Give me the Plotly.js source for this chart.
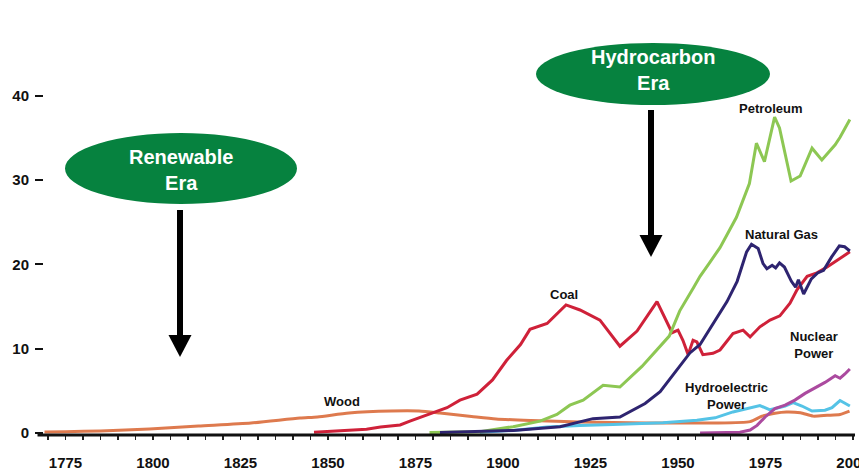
<!DOCTYPE html>
<html><head><meta charset="utf-8">
<script src="https://cdn.plot.ly/plotly-3.0.1.min.js"></script>
<style>html,body{margin:0;padding:0;background:#fff;overflow:hidden;} #chart{width:859px;height:471px;}</style>
</head><body><div id="chart"></div>
<script>
// ---- data (quadrillion Btu) ----
const xTickVals = [1775, 1800, 1825, 1850, 1875, 1900, 1925, 1950, 1975, 2000];
const xTickText = ['1775', '1800', '1825', '1850', '1875', '1900', '1925', '1950', '1975', '2000'];
const yTickVals = [0, 10, 20, 30, 40];
const yTickText = ['0', '10', '20', '30', '40'];

const woodYears = [1769, 1775, 1785, 1799, 1813, 1828, 1842, 1847, 1856, 1868, 1876, 1882, 1891, 1898, 1908, 1922, 1941, 1950, 1960, 1970.6, 1974, 1977.7, 1981, 1985, 1988.6, 1992.6, 1996.3, 1999];
const woodVals  = [0.12, 0.15, 0.24, 0.47, 0.83, 1.19, 1.78, 1.9, 2.37, 2.61, 2.61, 2.37, 1.96, 1.66, 1.48, 1.31, 1.19, 1.19, 1.19, 1.35, 2.0, 2.35, 2.5, 2.4, 2.0, 2.1, 2.2, 2.6];

const coalYears = [1846, 1861, 1865, 1870.6, 1873.4, 1879, 1884, 1887.7, 1892.6, 1897, 1901, 1905, 1907.7, 1912.6, 1918, 1922, 1927.7, 1933.4, 1938.3, 1944, 1948.3, 1950, 1951.4, 1952.9, 1954.3, 1955.4, 1957.1, 1960, 1962, 1965.7, 1968.6, 1970.6, 1973.4, 1976.3, 1979.1, 1982, 1984, 1986.9, 1989.7, 1992.6, 1995.4, 1998.3, 1999.1];
const coalVals  = [0.1, 0.44, 0.7, 0.95, 1.4, 2.2, 3.0, 3.9, 4.6, 6.3, 8.6, 10.5, 12.3, 13.0, 15.2, 14.6, 13.4, 10.3, 12.1, 15.6, 11.9, 12.2, 11.0, 9.3, 11.0, 10.8, 9.3, 9.45, 9.85, 11.8, 12.2, 11.4, 12.6, 13.4, 13.9, 15.4, 17.0, 18.6, 19.0, 19.7, 20.5, 21.3, 21.5];

const petroYears = [1879, 1893.4, 1902.9, 1910.6, 1915.4, 1919.1, 1922.9, 1928.6, 1933.4, 1939.7, 1947.5, 1950.5, 1954.5, 1956.3, 1959, 1962, 1966.7, 1970.4, 1972.4, 1974.7, 1977.6, 1979, 1982.3, 1984.9, 1988.3, 1991.1, 1994.9, 1996.3, 1999.1];
const petroVals  = [0.05, 0.15, 0.75, 1.4, 2.2, 3.3, 3.9, 5.65, 5.45, 7.9, 11.5, 14.5, 17.3, 18.6, 20.2, 22.0, 25.6, 29.6, 34.4, 32.2, 37.5, 36.2, 29.9, 30.5, 33.8, 32.4, 34.2, 35.1, 37.2];

const gasYears = [1882, 1902.9, 1916.3, 1925.7, 1933.4, 1940.6, 1944.9, 1947.7, 1950.6, 1953.4, 1956.3, 1960, 1964, 1966.9, 1969.6, 1971, 1972.9, 1974.3, 1975.4, 1976.9, 1977.9, 1979, 1980.4, 1982.4, 1983.6, 1984.4, 1985.9, 1988.1, 1989.9, 1991.6, 1993.9, 1996.1, 1997.6, 1999.1];
const gasVals  = [0.05, 0.3, 0.75, 1.7, 1.9, 3.5, 4.9, 6.4, 8.0, 9.5, 10.5, 13.0, 15.6, 18.0, 21.5, 22.4, 21.9, 20.1, 19.5, 19.9, 19.6, 20.2, 19.7, 18.0, 17.3, 18.2, 16.5, 18.3, 19.0, 19.3, 20.9, 22.2, 22.1, 21.6];

const hydroYears = [1893.4, 1902.9, 1912.6, 1922, 1931.4, 1945.7, 1955.4, 1960.6, 1965.7, 1973.4, 1976.3, 1980.6, 1982.9, 1985.4, 1988.3, 1992, 1994, 1996.3, 1999.1];
const hydroVals  = [0.1, 0.3, 0.7, 0.9, 1.0, 1.2, 1.5, 1.8, 2.5, 3.25, 2.75, 3.2, 3.6, 3.2, 2.6, 2.7, 3.0, 3.85, 3.2];

const nucYears = [1956.3, 1967.7, 1970.6, 1972.6, 1974.9, 1977.7, 1980.6, 1983.4, 1986.3, 1989.1, 1992, 1994.9, 1996.3, 1997.7, 1999.1];
const nucVals  = [0.0, 0.1, 0.35, 0.9, 1.9, 2.9, 3.3, 3.9, 4.7, 5.3, 6.0, 6.8, 6.5, 7.0, 7.6];

// ---- layout geometry ----
const W = 859, H = 471;
const M = {l: 44, r: 4, t: 20, b: 36, pad: 0};
const X_RANGE = [1768.857, 2000.571];
const Y_RANGE = [-0.24, 49.02];
function px2x(px){ return X_RANGE[0] + (px - M.l) / (W - M.l - M.r) * (X_RANGE[1] - X_RANGE[0]); }
function py2y(py){ return Y_RANGE[1] - (py - M.t) / (H - M.t - M.b) * (Y_RANGE[1] - Y_RANGE[0]); }

const FONT = 'Liberation Sans, Arial, Helvetica, sans-serif';
function line(x, y, color, shape){
  return {x: x, y: y, type: 'scatter', mode: 'lines', hoverinfo: 'skip',
    line: {color: color, width: 3, shape: shape || 'linear', smoothing: 0.6}};
}
const traces = [
  line(woodYears, woodVals, '#DE7A4E', 'spline'),
  line(hydroYears, hydroVals, '#55C3E6'),
  line(nucYears, nucVals, '#AB4A9F'),
  line(coalYears, coalVals, '#CF2139'),
  line(petroYears, petroVals, '#8DC753'),
  line(gasYears, gasVals, '#2E2470')
];

const GREEN = '#06823F';
function arrowShapes(cx, yTop, yHeadTop, yTip){
  const hw = 11.5;
  return [
    {type: 'line', xref: 'x', yref: 'y', x0: px2x(cx), x1: px2x(cx), y0: py2y(yTop), y1: py2y(yHeadTop + 2), line: {color: '#000', width: 6}},
    {type: 'path', xref: 'x', yref: 'y', fillcolor: '#000', line: {width: 0},
     path: 'M ' + px2x(cx - hw) + ',' + py2y(yHeadTop) + ' L ' + px2x(cx + hw) + ',' + py2y(yHeadTop) + ' L ' + px2x(cx) + ',' + py2y(yTip) + ' Z'}
  ];
}
const shapes = [
  {type: 'circle', xref: 'x', yref: 'y', x0: px2x(65), x1: px2x(297), y0: py2y(204), y1: py2y(133), fillcolor: GREEN, line: {width: 0}},
  {type: 'circle', xref: 'x', yref: 'y', x0: px2x(536), x1: px2x(770), y0: py2y(105), y1: py2y(43), fillcolor: GREEN, line: {width: 0}},
  ...arrowShapes(180, 210, 335, 357),
  ...arrowShapes(651, 110, 235, 257),
  {type: 'line', xref: 'paper', yref: 'paper', x0: -0.008, x1: 1, y0: 0, y1: 0, line: {color: '#111', width: 3}}
];

function label(text, cx, cy, size, color){
  return {text: text, x: px2x(cx), y: py2y(cy), xref: 'x', yref: 'y', showarrow: false,
    xanchor: 'center', yanchor: 'middle', align: 'center',
    font: {family: FONT, size: size, color: color, weight: 'bold'}};
}
const annotations = [
  label('Renewable<br>Era', 181, 170, 20, '#fff'),
  label('Hydrocarbon<br>Era', 653, 70, 20, '#fff'),
  label('Petroleum', 771, 108, 13, '#111'),
  label('Natural Gas', 781, 234, 13, '#111'),
  label('Coal', 564, 294, 13, '#111'),
  label('Nuclear<br>Power', 814, 345, 13, '#111'),
  label('Hydroelectric<br>Power', 726, 396, 13, '#111'),
  label('Wood', 342, 401, 13, '#111')
];

const layout = {
  width: W, height: H, margin: M,
  paper_bgcolor: '#fff', plot_bgcolor: '#fff',
  showlegend: false, hovermode: false,
  xaxis: {range: X_RANGE, showgrid: false, zeroline: false, showline: false,
    tickmode: 'array', tickvals: xTickVals, ticktext: xTickText,
    ticks: 'outside', ticklen: 4, tickwidth: 1.5, tickcolor: '#222',
    minor: {dtick: 5, tick0: 1775, ticks: 'outside', ticklen: 4, tickwidth: 1.5, tickcolor: '#222'},
    ticklabelstandoff: 10, ticklabeloverflow: 'allow',
    tickfont: {family: FONT, size: 15, color: '#111', weight: 'bold'}, automargin: false, fixedrange: true},
  yaxis: {range: Y_RANGE, showgrid: false, zeroline: false, showline: false,
    tickmode: 'array', tickvals: yTickVals, ticktext: yTickText,
    ticks: 'outside', ticklen: 8, tickwidth: 2, tickcolor: '#111',
    ticklabelstandoff: 3, ticklabeloverflow: 'allow',
    tickfont: {family: FONT, size: 15, color: '#111', weight: 'bold'}, automargin: false, fixedrange: true},
  shapes: shapes,
  annotations: annotations
};

Plotly.newPlot('chart', traces, layout, {displayModeBar: false, staticPlot: true});
</script>
</body></html>
